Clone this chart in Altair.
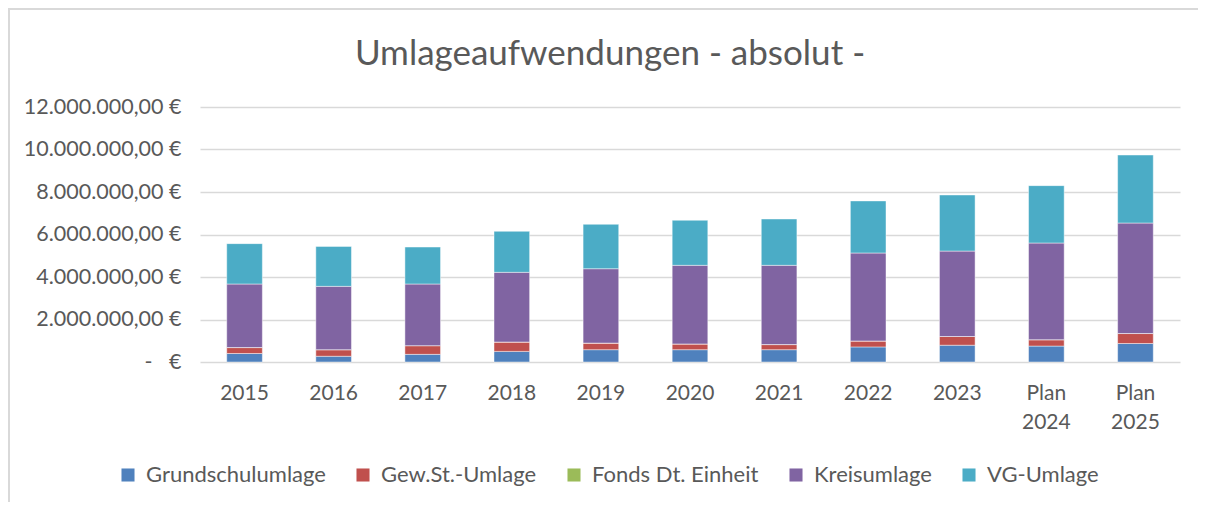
import altair as alt
import pandas as pd

years = ["2015", "2016", "2017", "2018", "2019", "2020", "2021", "2022", "2023", "Plan 2024", "Plan 2025"]
series = ["Grundschulumlage", "Gew.St.-Umlage", "Fonds Dt. Einheit", "Kreisumlage", "VG-Umlage"]
colors = ["#4f81bd", "#c0504d", "#9bbb59", "#8064a2", "#4bacc6"]

grundschulumlage = [400000, 270000, 360000, 500000, 580000, 580000, 580000, 710000, 790000, 750000, 870000]
gewst_umlage = [280000, 310000, 410000, 440000, 310000, 270000, 240000, 280000, 410000, 300000, 470000]
fonds_dt_einheit = [0, 0, 0, 0, 0, 0, 0, 0, 0, 0, 0]
kreisumlage = [2990000, 2980000, 2900000, 3280000, 3500000, 3700000, 3730000, 4140000, 4020000, 4550000, 5200000]
vg_umlage = [1900000, 1880000, 1740000, 1930000, 2090000, 2120000, 2180000, 2450000, 2640000, 2700000, 3200000]

y_ticks = [0, 2000000, 4000000, 6000000, 8000000, 10000000, 12000000]
title_text = ["Umlageaufwendungen - absolut -"]

values = [grundschulumlage, gewst_umlage, fonds_dt_einheit, kreisumlage, vg_umlage]
rows = []
for si, (name, vals) in enumerate(zip(series, values)):
    for yi, (yr, v) in enumerate(zip(years, vals)):
        rows.append({"Jahr": yr, "Umlage": name, "Betrag": v, "order": si})
df = pd.DataFrame(rows)

FONT = "Lato"
TXT = "#595959"
GRID = "#d9d9d9"

bars = alt.Chart(df).mark_bar(stroke="white", strokeWidth=1, strokeOpacity=0.45).encode(
    x=alt.X("Jahr:N", sort=years,
            scale=alt.Scale(paddingInner=0.6, paddingOuter=0.3),
            axis=alt.Axis(title=None, labelAngle=0, ticks=False, domain=False, grid=False,
                          labelExpr="split(datum.label, ' ')",
                          labelFontSize=21, labelColor=TXT, labelFont=FONT,
                          labelPadding=20, labelLineHeight=29)),
    y=alt.Y("sum(Betrag):Q",
            scale=alt.Scale(domain=[0, 12000000], nice=False),
            axis=alt.Axis(title=None, values=y_ticks, ticks=False, domain=False,
                          gridColor=GRID, gridWidth=1.6,
                          labelExpr="datum.value == 0 ? '-\u00a0\u00a0\u00a0€' : format(datum.value / 1000000, 'd') + '.000.000,00 €'",
                          labelFontSize=21.5, labelColor=TXT, labelFont=FONT, labelPadding=19)),
    color=alt.Color("Umlage:N",
                    scale=alt.Scale(domain=series, range=colors),
                    legend=alt.Legend(title=None, orient="none", direction="horizontal",
                                      columns=5, legendX=-83, legendY=357,
                                      symbolType="square", symbolSize=170,
                                      symbolStrokeWidth=0,
                                      labelFontSize=22, labelColor=TXT, labelFont=FONT,
                                      labelOffset=7, columnPadding=26, labelLimit=400)),
    order=alt.Order("order:Q", sort="ascending"),
)

frame = pd.DataFrame({"a": [0]})
left_border = alt.Chart(frame).mark_rule(color=GRID, strokeWidth=2).encode(
    x=alt.value(-191), y=alt.value(-99), y2=alt.value(400))
top_border = alt.Chart(frame).mark_rule(color=GRID, strokeWidth=2).encode(
    x=alt.value(-191), x2=alt.value(1030), y=alt.value(-98))

title = alt.Chart(pd.DataFrame({"t": title_text})).mark_text(
    font=FONT, fontSize=35, color=TXT, align="center", baseline="alphabetic"
).encode(text="t:N", x=alt.value(410), y=alt.value(-42))

chart = alt.layer(bars, left_border, top_border, title).properties(
    width=980,
    height=255,
    background="white",
    autosize=alt.AutoSizeParams(type="none"),
    padding={"left": 192, "top": 99, "right": 18, "bottom": 140},
).configure_view(stroke=None, strokeWidth=0)

chart.save("out.html", embed_options={"renderer": "svg", "actions": False})
